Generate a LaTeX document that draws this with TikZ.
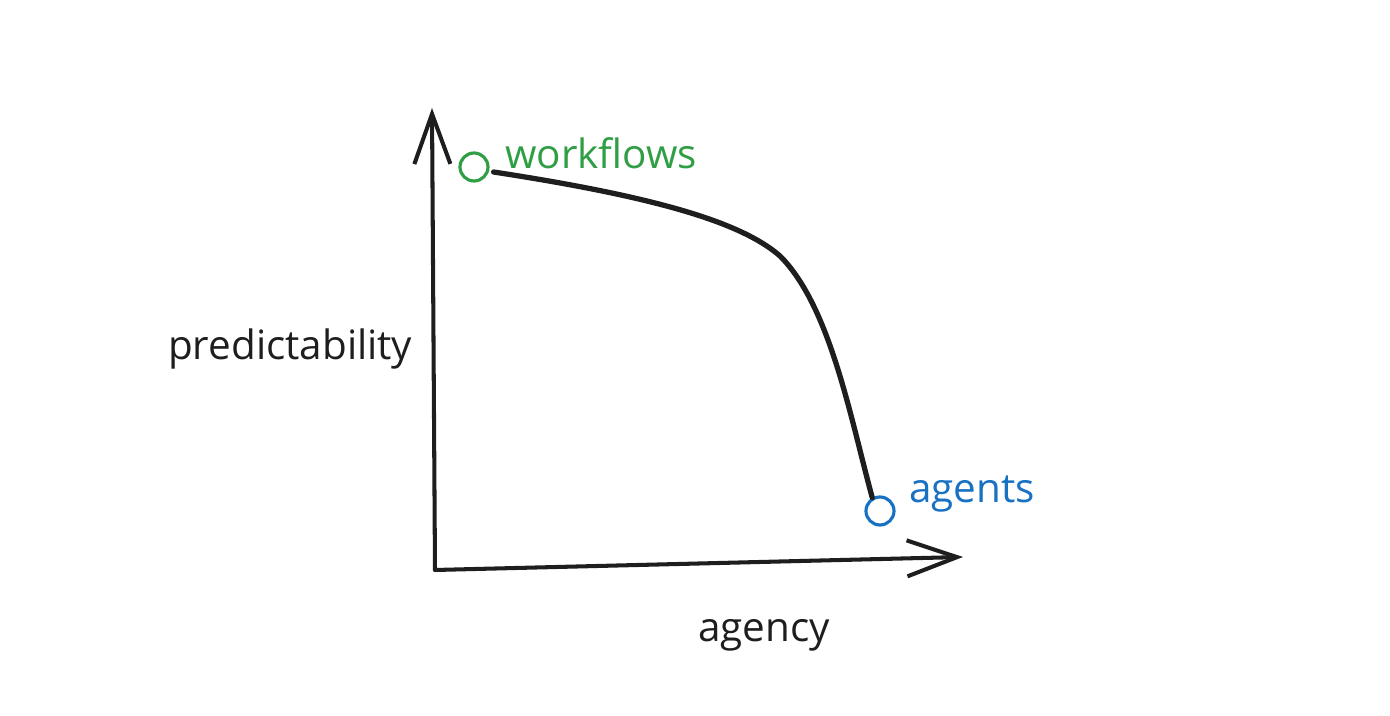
\documentclass[tikz,border=0pt]{standalone}
\usepackage{fontspec}
\setmainfont{Open Sans}
\usetikzlibrary{arrows.meta, positioning, calc}
\definecolor{flowGreen}{HTML}{2F9E44}
\definecolor{agentBlue}{HTML}{1971C2}
\definecolor{inkDark}{HTML}{1E1E1E}

\begin{document}
\begin{tikzpicture}[
    axis/.style={draw=inkDark, line width=1.15pt, line cap=round,
                 -{Straight Barb[length=5mm, width=3.6mm, line width=1.15pt]}},
    curve/.style={draw=inkDark, line width=1.5pt, line cap=round},
    dot/.style={circle, line width=0.9pt, minimum size=0.28cm, inner sep=0pt},
    lbl/.style={font=\fontsize{11.5pt}{13pt}\selectfont, inner sep=0pt},
  ]
    \useasboundingbox (0,0) rectangle (13.9,7.16);
    % axes
    \coordinate (origin) at (4.35,1.46);
    \coordinate (ytip) at (4.32,6.08);
    \coordinate (xtip) at (9.63,1.59);
    \draw[axis] (origin) -- (ytip);
    \draw[axis] (origin) -- (xtip);
    \node[lbl, text=inkDark, anchor=base east] (ylabel) at (4.13,3.56) {predictability};
    \node[lbl, text=inkDark, anchor=base] (xlabel) at (7.64,0.74) {agency};
    % end points
    \node[dot, draw=flowGreen] (wf) at (4.74,5.49) {};
    \node[dot, draw=agentBlue] (ag) at (8.80,2.05) {};
    \node[lbl, text=flowGreen, right=0.15cm of wf.east, anchor=base west, yshift=-0.02cm] (wftext) {workflows};
    \node[lbl, text=agentBlue, right=0.13cm of ag.east, anchor=base west, yshift=0.08cm] (agtext) {agents};
    % trade-off curve
    \draw[curve] ($(wf.east)+(0.04,-0.05)$) .. controls (6.5,5.2) and (7.4,4.95) .. (7.8,4.6)
      .. controls (8.3,4.1) and (8.5,3.0) .. (ag.120);
\end{tikzpicture}
\end{document}
